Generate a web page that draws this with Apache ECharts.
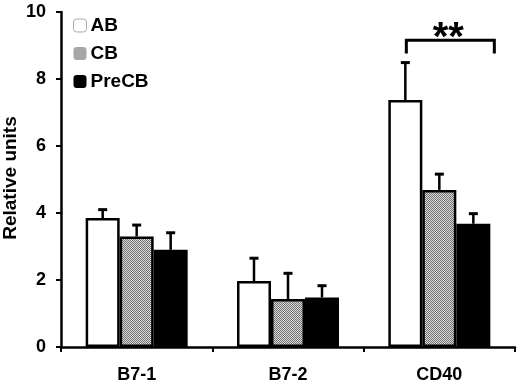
<!DOCTYPE html>
<html>
<head>
<meta charset="utf-8">
<script src="https://cdn.jsdelivr.net/npm/echarts@6/dist/echarts.min.js"></script>
<style>
  html, body { margin: 0; padding: 0; background: #fff; }
  #main { width: 520px; height: 381px; }
</style>
</head>
<body>
<div id="main"></div>
<script type="text/javascript">
	// data
	var categories = ['B7-1', 'B7-2', 'CD40'];
	var groupNames = ['AB', 'CB', 'PreCB'];
	var abMean = [3.85, 1.97, 7.37];
	var abErr = [0.25, 0.68, 1.12];
	var cbMean = [3.30, 1.43, 4.69];
	var cbErr = [0.34, 0.77, 0.47];
	var preMean = [2.90, 1.48, 3.68];
	var preErr = [0.51, 0.35, 0.30];
	var yTicks = [0, 2, 4, 6, 8, 10];
	var yTitle = 'Relative units';
	// significance bracket over CD40: [category index, bar top, leg end]
	var bracket = [[2, 9.16, 8.76]];
	var sigLabel = '**';

	var myCharts = echarts.init(document.getElementById('main'));
	var BW = 34; // bar width px
	var FONT = '"Liberation Sans", Arial, sans-serif';

	// checkered grey for CB
	var pat = document.createElement('canvas');
	pat.width = 2; pat.height = 2;
	var pctx = pat.getContext('2d');
	pctx.fillStyle = '#dcdcdc'; pctx.fillRect(0, 0, 2, 2);
	pctx.fillStyle = '#707070'; pctx.fillRect(0, 0, 1, 1); pctx.fillRect(1, 1, 1, 1);
	var cbFill = { image: pat, repeat: 'repeat' };

	function errRender(idx) {
		return function (params, api) {
			var c = api.coord([api.value(0), api.value(1)]);
			var t = api.coord([api.value(0), api.value(1) + api.value(2)]);
			var x = c[0] + (idx - 1) * BW;
			return {
				type: 'group',
				children: [
					{ type: 'line', shape: { x1: x, y1: c[1], x2: x, y2: t[1] }, style: { stroke: '#000', lineWidth: 2.5 } },
					{ type: 'line', shape: { x1: x - 4.5, y1: t[1], x2: x + 4.5, y2: t[1] }, style: { stroke: '#000', lineWidth: 3 } }
				]
			};
		};
	}

	function errData(m, e) {
		return m.map(function (v, i) { return [i, v, e[i]]; });
	}

	function barSeries(name, data, color) {
		return {
			name: name,
			type: 'bar',
			barWidth: BW,
			barGap: '0%',
			data: data,
			itemStyle: { color: color, borderColor: '#000', borderWidth: 2.5 },
			z: 2
		};
	}

	option = {
		animation: false,
		backgroundColor: '#fff',
		grid: { left: 61, right: 5, top: 12, bottom: 34, containLabel: false, outerBoundsMode: 'none' },
		// y title drawn as graphic (axis name kept getting pushed off the left edge)
		graphic: [{
			type: 'text',
			x: 11,
			y: 178,
			rotation: Math.PI / 2,
			style: {
				text: yTitle,
				font: 'bold 19px ' + FONT,
				fill: '#000',
				textAlign: 'center',
				textVerticalAlign: 'middle'
			}
		}],
		legend: {
			orient: 'vertical',
			left: 68,
			top: 11,
			itemWidth: 13,
			itemHeight: 13,
			itemGap: 9,
			textStyle: { fontFamily: FONT, fontWeight: 'bold', fontSize: 19, color: '#000', padding: [0, 0, 0, -1] },
			data: [
				{ name: 'AB', itemStyle: { borderColor: '#aaa', borderWidth: 1 } },
				{ name: 'CB', itemStyle: { borderWidth: 0 } },
				{ name: 'PreCB', itemStyle: { borderWidth: 0 } }
			]
		},
		xAxis: {
			type: 'category',
			data: categories,
			axisLine: { lineStyle: { color: '#000', width: 2.5 } },
			axisTick: { show: true, length: 5, lineStyle: { color: '#000', width: 2 } },
			axisLabel: { fontFamily: FONT, fontWeight: 'bold', fontSize: 18, color: '#000', margin: 19 }
		},
		yAxis: {
			type: 'value',
			min: yTicks[0],
			max: yTicks[yTicks.length - 1],
			interval: 2,
			splitLine: { show: false },
			axisLine: { show: true, lineStyle: { color: '#000', width: 2.5 } },
			axisTick: { show: true, length: 5, lineStyle: { color: '#000', width: 2 } },
			axisLabel: { fontFamily: FONT, fontWeight: 'bold', fontSize: 18, color: '#000', margin: 15 }
		},
		series: [
			barSeries(groupNames[0], abMean, '#fff'),
			barSeries(groupNames[1], cbMean, cbFill),
			barSeries(groupNames[2], preMean, '#000'),
			{ type: 'custom', renderItem: errRender(0), data: errData(abMean, abErr), z: 3 },
			{ type: 'custom', renderItem: errRender(1), data: errData(cbMean, cbErr), z: 3 },
			{ type: 'custom', renderItem: errRender(2), data: errData(preMean, preErr), z: 3 },
			{
				type: 'custom',
				z: 4,
				data: bracket,
				renderItem: function (params, api) {
					var top = api.coord([api.value(0), api.value(1)]);
					var leg = api.coord([api.value(0), api.value(2)]);
					var x1 = top[0] - BW + 1;
					var x2 = top[0] + BW * 1.5 + 4;
					return {
						type: 'group',
						children: [
							{
								type: 'polyline',
								shape: { points: [[x1, leg[1]], [x1, top[1]], [x2, top[1]], [x2, leg[1]]] },
								style: { stroke: '#000', lineWidth: 3, fill: null }
							},
							{
								type: 'text',
								style: {
									text: sigLabel, x: (x1 + x2) / 2 - 2, y: top[1] + 19,
									textAlign: 'center', textVerticalAlign: 'bottom',
									font: 'bold 40px ' + FONT, fill: '#000'
								}
							}
						]
					};
				}
			}
		]
	};
	myCharts.setOption(option);
</script>
</body>
</html>
